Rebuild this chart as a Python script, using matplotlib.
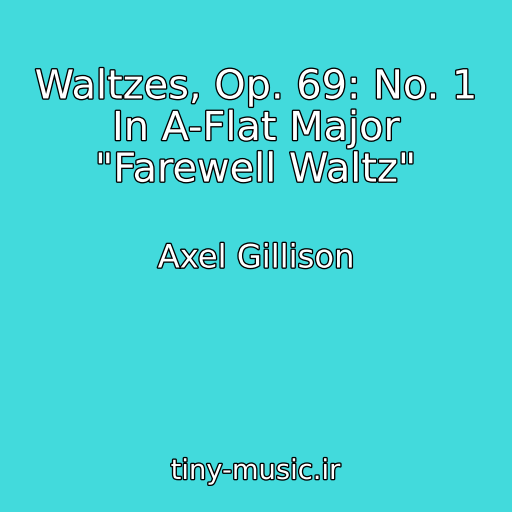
import matplotlib
matplotlib.use("Agg")
import matplotlib.pyplot as plt
import matplotlib.patheffects as pe

title_lines = ["Waltzes, Op. 69: No. 1", "In A-Flat Major", "\"Farewell Waltz\""]
artist = "Axel Gillison"
site = "tiny-music.ir"

bg = "#42DADC"
fig = plt.figure(figsize=(5.12, 5.12), dpi=100)
fig.patch.set_facecolor(bg)
ax = fig.add_axes([0, 0, 1, 1])
ax.set_facecolor(bg)
ax.set_xlim(0, 512)
ax.set_ylim(512, 0)
ax.axis("off")

stroke = [pe.withStroke(linewidth=1.9, foreground="black")]

ax.text(256, 129, "\n".join(title_lines), ha="center", va="center",
        fontsize=28.7, color="white", family="DejaVu Sans",
        linespacing=1.05, path_effects=stroke)
ax.text(256, 259, artist, ha="center", va="center", fontsize=23.2,
        color="white", family="DejaVu Sans", path_effects=stroke)
ax.text(256, 472, site, ha="center", va="center", fontsize=19.7,
        color="white", family="DejaVu Sans", path_effects=stroke)

fig.savefig("out.png", dpi=100, facecolor=bg)
